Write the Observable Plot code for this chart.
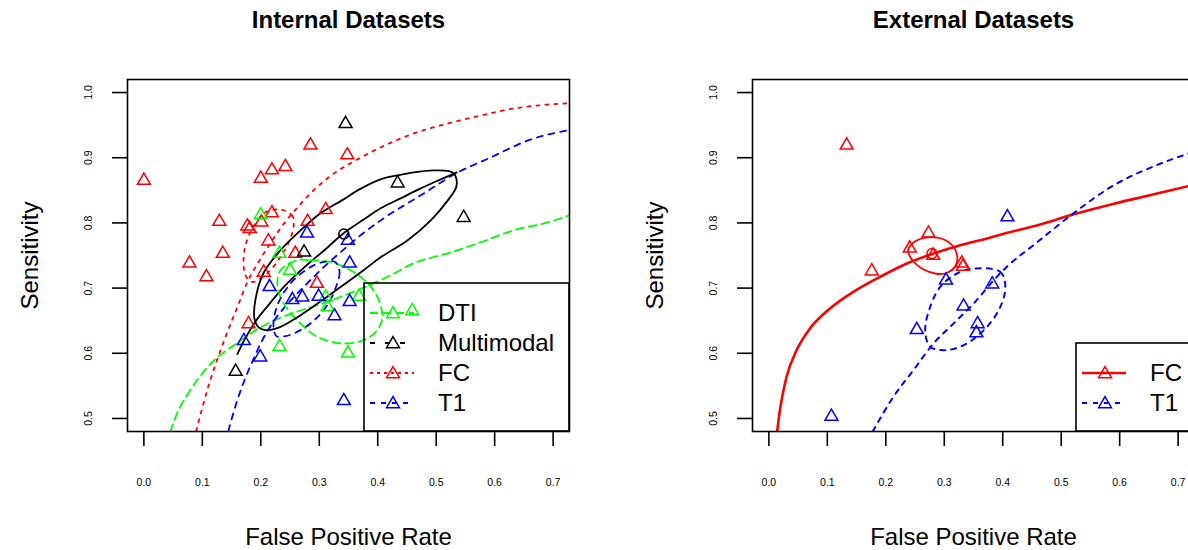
<!DOCTYPE html>
<html><head><meta charset="utf-8">
<script src="https://cdn.jsdelivr.net/npm/d3@7"></script>
<script src="https://cdn.jsdelivr.net/npm/@observablehq/plot@0.6"></script>
<style>
html,body{margin:0;padding:0;background:#fff;overflow:hidden}
#wrap{position:relative;width:1188px;height:550px;overflow:hidden;background:#fff}
#wrap > svg{position:absolute;top:0}
</style></head><body><div id="wrap"></div>
<script>
// ---------- axes ----------
const xTicks = [0, 0.1, 0.2, 0.3, 0.4, 0.5, 0.6, 0.7];
const yTicks = [0.5, 0.6, 0.7, 0.8, 0.9, 1.0];
const xDomain = [-0.028, 0.728];
const yDomain = [0.48, 1.02];
const titles = ["Internal Datasets", "External Datasets"];
const xLabel = "False Positive Rate";
const yLabel = "Sensitivity";

// ---------- Internal datasets: study points (FPR, sensitivity) ----------
const intDTI = [[0.200,0.812],[0.232,0.753],[0.250,0.727],[0.314,0.671],[0.311,0.686],[0.232,0.610],[0.349,0.600],[0.368,0.687],[0.459,0.665]];
const intMultimodal = [[0.345,0.952],[0.434,0.861],[0.547,0.808],[0.274,0.755],[0.157,0.572]];
const intFC = [[0.000,0.865],[0.078,0.738],[0.107,0.717],[0.129,0.802],[0.135,0.753],[0.177,0.795],[0.181,0.791],[0.200,0.868],[0.219,0.881],[0.242,0.886],[0.285,0.919],[0.348,0.904],[0.219,0.815],[0.201,0.801],[0.280,0.802],[0.311,0.820],[0.213,0.772],[0.205,0.724],[0.259,0.753],[0.296,0.707],[0.179,0.645]];
const intT1 = [[0.279,0.784],[0.349,0.773],[0.352,0.738],[0.215,0.702],[0.254,0.682],[0.271,0.686],[0.299,0.687],[0.352,0.679],[0.326,0.657],[0.171,0.619],[0.199,0.594],[0.342,0.527]];
const intMultimodalSummary = [[0.342,0.783]];

// SROC curves
const intDTIsroc = [[0.0451,0.4793],[0.0571,0.5084],[0.0742,0.5360],[0.0913,0.5590],[0.1205,0.5896],[0.1548,0.6126],[0.1890,0.6340],[0.2165,0.6478],[0.2404,0.6570],[0.3021,0.6753],[0.3656,0.6968],[0.4221,0.7198],[0.4615,0.7381],[0.5198,0.7534],[0.5764,0.7703],[0.6329,0.7887],[0.6912,0.8009],[0.728,0.8116]];
const intMultimodalSroc = [[0.1599,0.5988],[0.1736,0.6233],[0.1890,0.6462],[0.2130,0.6738],[0.2422,0.7044],[0.2764,0.7335],[0.3107,0.7596],[0.3416,0.7841],[0.3741,0.8040],[0.4050,0.8224],[0.4392,0.8377],[0.4735,0.8530],[0.5078,0.8668],[0.5352,0.8775]];
const intFCsroc = [[0.0896,0.481],[0.1085,0.5436],[0.1222,0.5819],[0.1376,0.6202],[0.1599,0.6708],[0.1770,0.7090],[0.1959,0.7397],[0.2165,0.7688],[0.2387,0.7979],[0.2644,0.8254],[0.2901,0.8499],[0.3278,0.8775],[0.3621,0.8959],[0.4050,0.9158],[0.4615,0.9372],[0.5198,0.9525],[0.5764,0.9648],[0.6329,0.9755],[0.6912,0.9816],[0.728,0.9836]];
const intT1sroc = [[0.1445,0.4809],[0.1599,0.5283],[0.1736,0.5620],[0.1890,0.5942],[0.2027,0.6202],[0.2199,0.6462],[0.2422,0.6723],[0.2679,0.6968],[0.3021,0.7274],[0.3364,0.7550],[0.3707,0.7810],[0.4101,0.8070],[0.4735,0.8423],[0.5369,0.8775],[0.5935,0.9005],[0.6569,0.9265],[0.728,0.9426]];

// confidence regions (outline points)
const intDTIregion = [[0.2622,0.7427],[0.2850,0.7427],[0.3193,0.7401],[0.3536,0.7274],[0.3810,0.7090],[0.3993,0.6865],[0.4079,0.6559],[0.3993,0.6355],[0.3763,0.6202],[0.3364,0.6152],[0.2965,0.6253],[0.2622,0.6508],[0.2387,0.6769],[0.2284,0.7044],[0.2336,0.7274]];
const intMultimodalRegion = [[0.5352,0.8637],[0.5301,0.8760],[0.5198,0.8798],[0.4958,0.8806],[0.4615,0.8775],[0.4341,0.8729],[0.4050,0.8668],[0.3656,0.8499],[0.3416,0.8361],[0.3021,0.8147],[0.2627,0.7841],[0.2336,0.7580],[0.2045,0.7228],[0.1907,0.6815],[0.1890,0.6539],[0.1959,0.6401],[0.2079,0.6355],[0.2284,0.6386],[0.2627,0.6554],[0.3193,0.6907],[0.3758,0.7274],[0.4050,0.7473],[0.4512,0.7734],[0.4907,0.8040],[0.5198,0.8346],[0.5335,0.8530]];
const intFCregion = [[0.2336,0.8204],[0.2536,0.8116],[0.2564,0.7989],[0.2495,0.7734],[0.2336,0.7478],[0.2108,0.7224],[0.1851,0.7095],[0.1736,0.7198],[0.1707,0.7478],[0.1765,0.7734],[0.1907,0.7989],[0.2079,0.8162]];
const intT1region = [[0.3278,0.7397],[0.3347,0.7243],[0.3278,0.6998],[0.3159,0.6769],[0.2953,0.6539],[0.2679,0.6355],[0.2422,0.6263],[0.2267,0.6263],[0.2216,0.6432],[0.2267,0.6692],[0.2387,0.6922],[0.2576,0.7136],[0.2816,0.7305],[0.3056,0.7397]];

// ---------- External datasets ----------
const extFC = [[0.133,0.919],[0.273,0.784],[0.241,0.761],[0.281,0.750],[0.176,0.726],[0.330,0.738],[0.332,0.733]];
const extT1 = [[0.408,0.809],[0.303,0.712],[0.382,0.706],[0.333,0.672],[0.357,0.645],[0.355,0.631],[0.253,0.636],[0.107,0.503]];
const extFCsummary = [[0.279,0.753]];
const extFCsroc = [[0.0142,0.480],[0.0189,0.513],[0.0303,0.564],[0.0475,0.6049],[0.0703,0.638],[0.1046,0.6687],[0.1445,0.6942],[0.1902,0.7172],[0.2360,0.7377],[0.2817,0.7530],[0.3273,0.7657],[0.3731,0.7760],[0.3960,0.7820],[0.4530,0.7948],[0.5216,0.8132],[0.5901,0.8295],[0.6587,0.8438],[0.7183,0.8565]];
const extT1sroc = [[0.1777,0.480],[0.2131,0.5334],[0.2474,0.5743],[0.2817,0.6151],[0.3160,0.6458],[0.3503,0.6764],[0.3846,0.7121],[0.4079,0.7335],[0.4524,0.7657],[0.5210,0.8147],[0.5895,0.8576],[0.6581,0.8867],[0.7181,0.9066]];
const extFCregion = [[0.2382,0.7580],[0.2502,0.7718],[0.2725,0.7779],[0.2965,0.7757],[0.3136,0.7657],[0.3222,0.7489],[0.3188,0.7335],[0.3051,0.7236],[0.2862,0.7220],[0.2639,0.7289],[0.2468,0.7412]];
const extT1region = [[0.3501,0.7300],[0.3959,0.7248],[0.4045,0.7018],[0.3959,0.6712],[0.3731,0.6406],[0.3388,0.6152],[0.3045,0.6049],[0.2759,0.6100],[0.2674,0.6355],[0.2759,0.6712],[0.2931,0.7018],[0.3217,0.7224]];

// ---------- series styles / legends ----------
const internalLegend = [
  {name:"DTI", color:"#00ff00", dash:"8,5"},
  {name:"Multimodal", color:"#000000", dash:"5,10"},
  {name:"FC", color:"#ff0000", dash:"3,4"},
  {name:"T1", color:"#0000ff", dash:"5,6"}
];
const externalLegend = [
  {name:"FC", color:"#ff0000", dash:null},
  {name:"T1", color:"#0000ff", dash:"5,6"}
];

const FONT = "'Liberation Sans', Arial, Helvetica, sans-serif";
const W = 625, H = 550, ML = 127, MR = 56, MT = 79, MB = 119;
const TRI_R = 4.8;

function lineMark(data, color, dash, w, closed) {
  return Plot.line(data, {x: d => d[0], y: d => d[1], stroke: color, strokeWidth: w,
    strokeDasharray: dash || undefined, curve: closed ? "catmull-rom-closed" : "monotone-x", clip: true});
}
function triMark(data, color) {
  return Plot.dot(data, {x: d => d[0], y: d => d[1], symbol: "triangle", r: TRI_R,
    stroke: color, fill: "none", strokeWidth: 1.5});
}
function circMark(data, color) {
  return Plot.dot(data, {x: d => d[0], y: d => d[1], symbol: "circle", r: 5,
    stroke: color, fill: "none", strokeWidth: 1.6});
}

function panel(title, marks) {
  return Plot.plot({
    width: W, height: H, marginLeft: ML, marginRight: MR, marginTop: MT, marginBottom: MB,
    style: {fontFamily: FONT, background: "transparent", overflow: "visible", color: "black"},
    x: {domain: xDomain},
    y: {domain: yDomain},
    marks: [
      ...marks,
      Plot.frame({stroke: "black", strokeWidth: 1.6}),
      Plot.axisX({ticks: xTicks, tickSize: 15, tickPadding: 32, tickFormat: d => d.toFixed(1),
        fontSize: 10.5, label: null, strokeWidth: 1.6}),
      Plot.axisY({ticks: yTicks, tickSize: 15, tickFormat: () => "", label: null, strokeWidth: 1.6}),
      Plot.text(yTicks, {y: d => d, frameAnchor: "left", dx: -39, rotate: -90,
        textAnchor: "middle", lineAnchor: "middle",
        text: d => d.toFixed(1), fontSize: 10.5, fill: "black"}),
      Plot.text([title], {frameAnchor: "top", dy: -59, lineAnchor: "middle", textAnchor: "middle",
        text: d => d, fontSize: 24, fontWeight: "bold", fill: "black"}),
      Plot.text([xLabel], {frameAnchor: "bottom", dy: 106, lineAnchor: "middle", textAnchor: "middle",
        text: d => d, fontSize: 24, fill: "black"}),
      Plot.text([yLabel], {frameAnchor: "left", dx: -97, rotate: -90, lineAnchor: "middle", textAnchor: "middle",
        text: d => d, fontSize: 24, fill: "black"})
    ]
  });
}

const left = panel(titles[0], [
  lineMark(intDTIsroc, "#00ff00", "8,5", 1.8),
  lineMark(intFCsroc, "#ff0000", "3,6", 1.8),
  lineMark(intT1sroc, "#0000ff", "6,6", 1.8),
  lineMark(intMultimodalSroc, "#000000", null, 1.8),
  lineMark(intDTIregion, "#00ff00", "8,5", 1.8, true),
  lineMark(intFCregion, "#ff0000", "3,6", 1.8, true),
  lineMark(intT1region, "#0000ff", "6,6", 1.8, true),
  lineMark(intMultimodalRegion, "#000000", null, 1.8, true),
  triMark(intFC, "#ff0000"),
  triMark(intDTI, "#00ff00"),
  triMark(intMultimodal, "#000000"),
  triMark(intT1, "#0000ff"),
  circMark(intMultimodalSummary, "#000000")
]);
const right = panel(titles[1], [
  lineMark(extFCsroc, "#ff0000", null, 2.6),
  lineMark(extT1sroc, "#0000ff", "5,6", 2),
  lineMark(extFCregion, "#ff0000", null, 1.8, true),
  lineMark(extT1region, "#0000ff", "5,6", 2, true),
  triMark(extFC, "#ff0000"),
  triMark(extT1, "#0000ff"),
  circMark(extFCsummary, "#ff0000")
]);

const wrap = document.getElementById("wrap");
left.style.left = "0px";
right.style.left = W + "px";
wrap.appendChild(left);
wrap.appendChild(right);

// legends (transparent box at bottom-right of each plot region)
const ov = d3.select(wrap).append("svg").attr("width", 1250).attr("height", H)
  .style("left", "0px").style("font-family", FONT);
function legend(items, offsetX, boxW, lineStyleW) {
  const right = offsetX + W - MR, bottom = H - MB, rowH = 30;
  const boxH = rowH * items.length + 28;
  const x0 = right - boxW, y0 = bottom - boxH;
  ov.append("rect").attr("x", x0).attr("y", y0).attr("width", boxW).attr("height", boxH)
    .attr("fill", "none").attr("stroke", "black").attr("stroke-width", 1.6);
  const sym = d3.symbol(d3.symbolTriangle, Math.PI * TRI_R * TRI_R)();
  items.forEach((it, i) => {
    const cy = y0 + 30 + i * rowH;
    ov.append("line").attr("x1", x0 + 6).attr("x2", x0 + 50).attr("y1", cy).attr("y2", cy)
      .attr("stroke", it.color).attr("stroke-width", lineStyleW[i])
      .attr("stroke-dasharray", it.dash);
    ov.append("path").attr("d", sym).attr("transform", `translate(${x0 + 29},${cy + 1})`)
      .attr("fill", "none").attr("stroke", it.color).attr("stroke-width", 1.5);
    ov.append("text").attr("x", x0 + 74).attr("y", cy).attr("dy", "0.35em")
      .attr("font-size", 24).attr("fill", "black").text(it.name);
  });
}
legend(internalLegend, 0, 205, [1.8, 1.8, 1.8, 1.8]);
legend(externalLegend, W, 118, [2.6, 2]);
</script></body></html>
